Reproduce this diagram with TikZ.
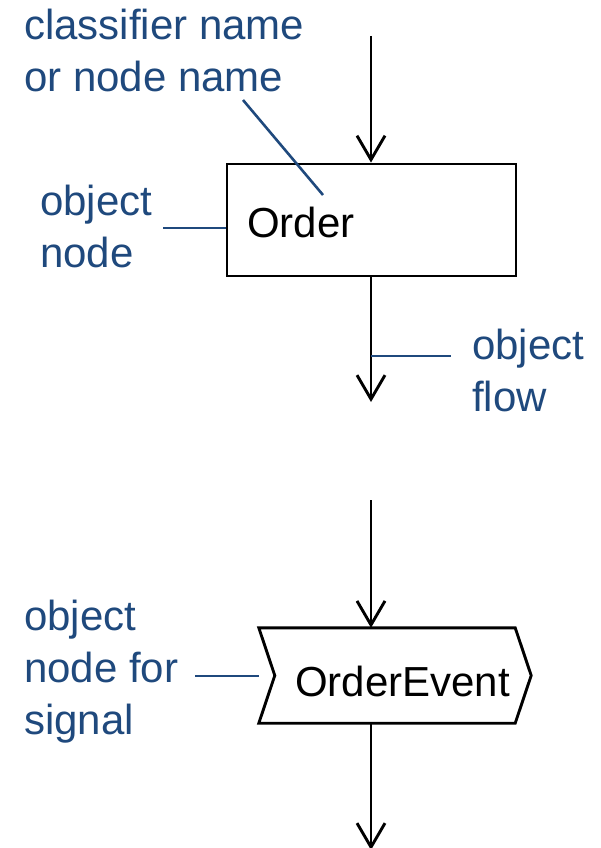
\documentclass[tikz,border=0pt]{standalone}
\usepackage{fontspec}
\setmainfont{Liberation Sans}
\usetikzlibrary{arrows.meta}
\definecolor{myblue}{RGB}{31,73,125}
\tikzset{
  lbl/.style={text=myblue, font=\fontsize{42}{52}\selectfont, align=left, inner sep=0pt, anchor=base west},
  txt/.style={text=black, font=\fontsize{42}{52}\selectfont, inner sep=0pt, anchor=base west},
  leader/.style={draw=myblue, line width=2.6pt},
  flow/.style={draw=black, line width=2.9pt, -{Straight Barb[length=24pt,width=28pt]}},
  objbox/.style={draw=black, line width=2.9pt, minimum width=289pt, minimum height=112pt, inner sep=0pt},
  sigholder/.style={minimum width=272pt, minimum height=95pt, inner sep=0pt},
}
\begin{document}
\begin{tikzpicture}[x=1pt,y=-1pt]
\useasboundingbox (0,0) rectangle (600,848);
% --- upper part: object node
\node[objbox] (order) at (371.5,220) {};
\node[txt] (ordertxt) at (247,237) {Order};
\coordinate (inA) at (371,36);
\coordinate (outA) at (371,402);
\draw[flow] (inA) -- (inA |- order.north);
\draw[flow] (inA |- order.south) -- (outA);
% labels (anchor = baseline of the last line)
\node[lbl] (lclass) at (24,92) {classifier name\\or node name};
\node[lbl] (lobj) at (40,267) {object\\node};
\node[lbl] (lflow) at (472,411) {object\\flow};
\coordinate (c1) at (243,100);
\coordinate (c2) at (323,195);
\draw[leader] (c1) -- (c2);
\coordinate (o1) at (163,228);
\draw[leader] (o1) -- (o1 -| order.west);
\coordinate (f1) at (451,356);
\draw[leader] (f1 -| inA) -- (f1);
% --- lower part: signal object node
\node[sigholder] (ev) at (395,675.5) {};
\draw[black, line width=2.9pt, line join=miter]
  (ev.north west) -- ([xshift=-16pt]ev.north east) -- (ev.east)
  -- ([xshift=-16pt]ev.south east) -- (ev.south west)
  -- ([xshift=16pt]ev.west) -- cycle;
\node[txt] (evtxt) at (295,696) {OrderEvent};
\coordinate (inB) at (371,500);
\coordinate (outB) at (371,850);
\draw[flow] (inB) -- (inB |- ev.north);
\draw[flow] (inB |- ev.south) -- (outB);
\node[lbl] (lsig) at (24,734) {object\\node for\\signal};
\coordinate (s1) at (195,676);
\draw[leader] (s1) -- (s1 -| ev.west);
\end{tikzpicture}
\end{document}
